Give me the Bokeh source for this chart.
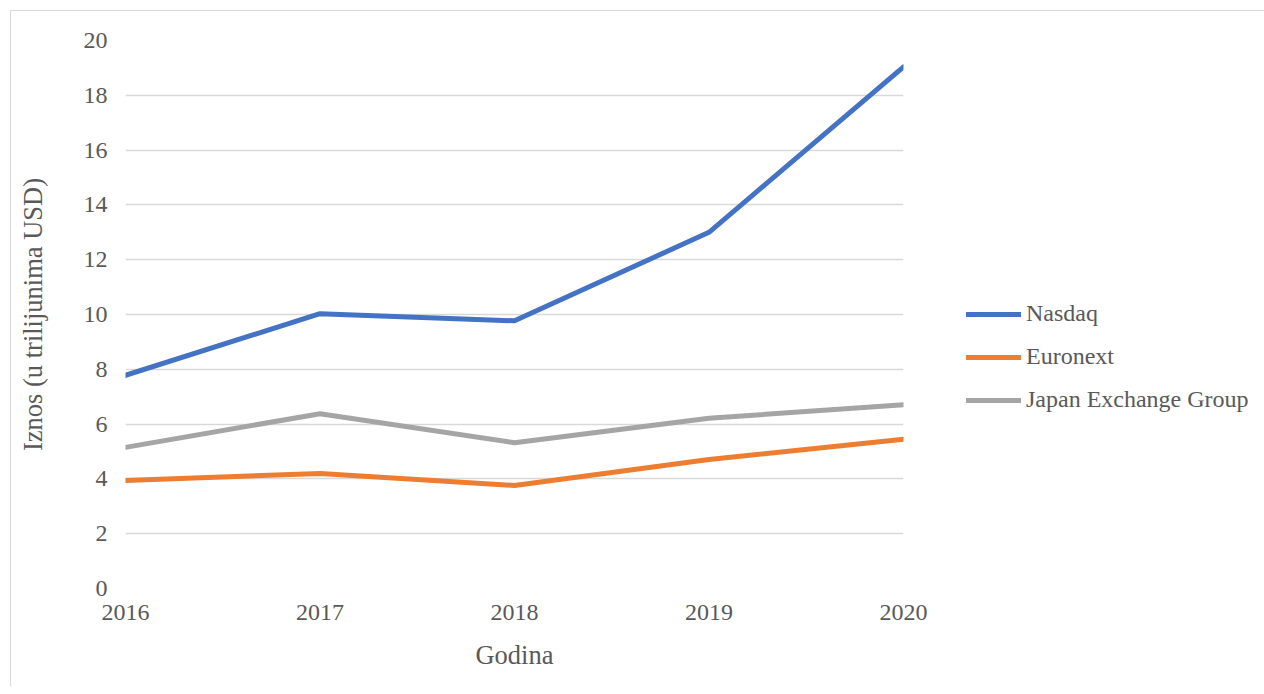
from bokeh.plotting import figure
from bokeh.models import Range1d, FixedTicker, Legend, LegendItem
from bokeh.embed import file_html
from bokeh.resources import INLINE

# ---- data ----
years = [2016, 2017, 2018, 2019, 2020]
nasdaq = [7.78, 10.03, 9.77, 13.00, 19.04]
euronext = [3.94, 4.20, 3.76, 4.71, 5.45]
japan_exchange = [5.15, 6.38, 5.32, 6.21, 6.71]
series_names = ["Nasdaq", "Euronext", "Japan Exchange Group"]
series_colors = ["#4472C4", "#ED7D31", "#A5A5A5"]
y_ticks = [0, 2, 4, 6, 8, 10, 12, 14, 16, 18, 20]
x_title = "Godina"
y_title = "Iznos (u trilijunima USD)"

FONT = "Liberation Serif"
TXT = "#595959"

p = figure(
    frame_width=778, frame_height=548,
    min_border_left=114, min_border_right=353,
    min_border_top=29, min_border_bottom=98,
    x_range=Range1d(years[0], years[-1]), y_range=Range1d(0, 20),
    output_backend="svg", toolbar_location=None,
)
p.styles = {"border-left": "1px solid #d9d9d9", "border-top": "1px solid #d9d9d9",
            "margin-left": "10px", "margin-top": "10px"}
p.outline_line_color = None
p.background_fill_color = "white"
p.border_fill_color = "white"

p.xgrid.grid_line_color = None
p.ygrid.grid_line_color = "#d9d9d9"
p.ygrid.grid_line_width = 1.5
p.ygrid.ticker = FixedTicker(ticks=y_ticks)

p.xaxis.ticker = FixedTicker(ticks=years)
p.yaxis.ticker = FixedTicker(ticks=y_ticks)
for ax in (p.xaxis[0], p.yaxis[0]):
    ax.axis_line_color = None
    ax.major_tick_line_color = None
    ax.minor_tick_line_color = None
    ax.major_tick_out = 0
    ax.major_tick_in = 0
    ax.minor_tick_out = 0
    ax.minor_tick_in = 0
    ax.major_label_text_font = FONT
    ax.major_label_text_font_size = "24px"
    ax.major_label_text_color = TXT
    ax.axis_label_text_font = FONT
    ax.axis_label_text_font_size = "26.5px"
    ax.axis_label_text_font_style = "normal"
    ax.axis_label_text_color = TXT

p.xaxis.axis_label = x_title
p.yaxis.axis_label = y_title
p.xaxis.major_label_standoff = 16
p.xaxis.axis_label_standoff = 17
p.yaxis.major_label_standoff = 18
p.yaxis.axis_label_standoff = 33

renderers = []
for vals, col in zip([nasdaq, euronext, japan_exchange], series_colors):
    r = p.line(years, vals, line_color=col, line_width=5,
               line_cap="round", line_join="round")
    renderers.append(r)

legend = Legend(
    items=[LegendItem(label=n, renderers=[r]) for n, r in zip(series_names, renderers)],
    location=(63, 175),
    orientation="vertical",
    border_line_color=None,
    background_fill_alpha=0,
    padding=0, margin=0,
    glyph_width=55, glyph_height=22,
    label_height=22, label_standoff=5, spacing=16,
    label_text_font=FONT, label_text_font_size="24px", label_text_color=TXT,
)
p.add_layout(legend, "right")

open("out.html", "w").write(file_html(p, INLINE))
